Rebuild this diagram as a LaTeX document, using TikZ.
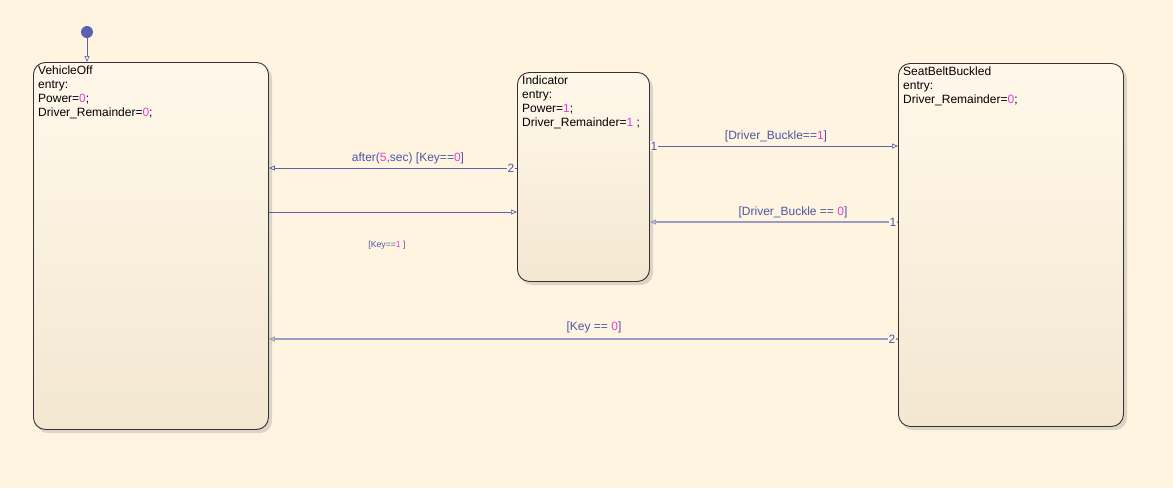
\documentclass[tikz,border=0pt]{standalone}
\usepackage{fontspec}
\setmainfont{Liberation Sans}
\usetikzlibrary{arrows.meta}
\definecolor{bg}{HTML}{FFF4E0}
\definecolor{boxtop}{HTML}{FFF8EA}
\definecolor{boxbot}{HTML}{F3E7D1}
\definecolor{trans}{HTML}{5A62B0}
\definecolor{transpale}{HTML}{9A9CC4}
\definecolor{lbl}{HTML}{4B57A6}
\definecolor{num}{HTML}{E040D8}
\newcommand{\nm}[1]{\textcolor{num}{#1}}
\tikzset{
  statebox/.style={draw=black!80, line width=0.9pt, rounded corners=12pt,
    top color=boxtop, bottom color=boxbot, anchor=north west, inner sep=0pt},
  stateshadow/.style={fill=black!40, opacity=0.35, rounded corners=12pt},
  statetext/.style={anchor=north west, align=left, inner sep=0pt,
    font=\fontsize{12}{14}\selectfont, text=black},
  tr/.style={draw=trans, line width=0.7pt, -{Triangle[open,length=6pt,width=5pt]}},
  trpale/.style={draw=transpale, line width=1.1pt, -{Triangle[open,length=6pt,width=5pt]}, },
  guard/.style={font=\fontsize{12}{14}\selectfont, text=lbl, inner sep=1pt},
  order/.style={font=\fontsize{12}{14}\selectfont, text=lbl, inner sep=0.5pt, fill=bg},
}
\begin{document}
\begin{tikzpicture}[x=1pt,y=-1pt]
\useasboundingbox[fill=bg] (0,0) rectangle (1173,488);

% drop shadows
\fill[stateshadow] (36,66) rectangle (272,433);
\fill[stateshadow] (520,76) rectangle (653,285);
\fill[stateshadow] (901,67) rectangle (1127,430);

% states
\node[statebox, minimum width=235pt, minimum height=367pt] (off) at (33,62) {};
\node[statebox, minimum width=132pt, minimum height=209pt] (ind) at (517,72) {};
\node[statebox, minimum width=225pt, minimum height=363pt] (belt) at (898,63) {};

\node[statetext] (offtxt) at ([xshift=5pt,yshift=-4pt]off.north west)
  {VehicleOff\\entry:\\Power=\nm{0};\\Driver\_Remainder=\nm{0};};
\node[statetext] (indtxt) at ([xshift=5pt,yshift=-4pt]ind.north west)
  {Indicator\\entry:\\Power=\nm{1};\\Driver\_Remainder=\nm{1} ;};
\node[statetext] (belttxt) at ([xshift=5pt,yshift=-4pt]belt.north west)
  {SeatBeltBuckled\\entry:\\Driver\_Remainder=\nm{0};};

% default transition
\fill[trans] (87,32) circle (6pt) coordinate (init);
\draw[tr, line width=0.6pt] (init) -- (init |- off.north);

% Indicator -> VehicleOff
\coordinate (a1) at (ind.west |- 0,168);
\coordinate (a2) at (off.east |- 0,168);
\draw[tr] (a1) -- (a2);
\node[guard] (ga) at (408,158) {after(\nm{5},sec) [Key==\nm{0}]};
\node[order] (oa) at (511,168) {2};

% VehicleOff -> Indicator
\coordinate (b1) at (off.east |- 0,212);
\coordinate (b2) at (ind.west |- 0,212);
\draw[tr] (b1) -- (b2);
\node[guard, font=\fontsize{8.7}{10}\selectfont] (gb) at (387,245) {[Key==\nm{1} ]};

% Indicator -> SeatBeltBuckled
\coordinate (c1) at (ind.east |- 0,146);
\coordinate (c2) at (belt.west |- 0,146);
\draw[tr] (c1) -- (c2);
\node[guard] (gc) at (776,136) {[Driver\_Buckle==\nm{1}]};
\node[order] (oc) at (654,146) {1};

% SeatBeltBuckled -> Indicator
\coordinate (d1) at (belt.west |- 0,222);
\coordinate (d2) at (ind.east |- 0,222);
\draw[trpale] (d1) -- (d2);
\node[guard] (gd) at (793,212) {[Driver\_Buckle == \nm{0}]};
\node[order] (od) at (893,222) {1};

% SeatBeltBuckled -> VehicleOff
\coordinate (e1) at (belt.west |- 0,339);
\coordinate (e2) at (off.east |- 0,339);
\draw[trpale] (e1) -- (e2);
\node[guard] (ge) at (594,327) {[Key == \nm{0}]};
\node[order] (oe) at (892,339) {2};
\end{tikzpicture}
\end{document}
